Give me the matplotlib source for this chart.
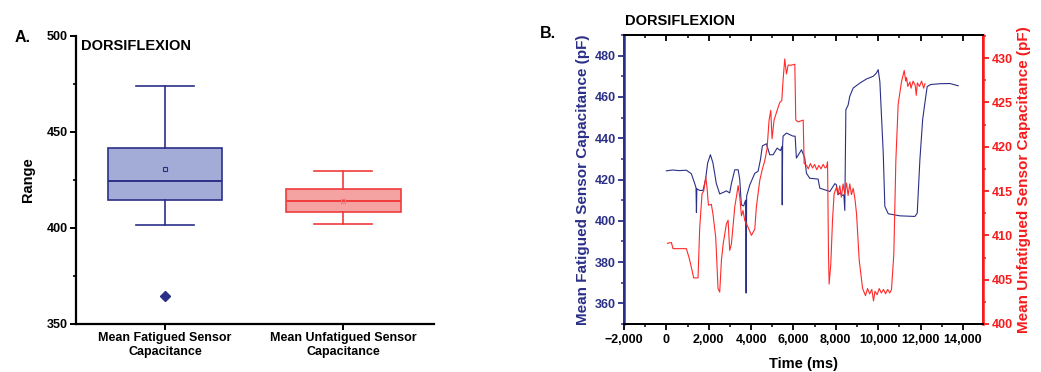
import numpy as np
import matplotlib
matplotlib.use("Agg")
import matplotlib.pyplot as plt
from matplotlib.ticker import MultipleLocator, FuncFormatter

plt.rcParams['font.family'] = ['Liberation Sans', 'DejaVu Sans']
plt.rcParams['font.weight'] = 'bold'
plt.rcParams['axes.labelweight'] = 'bold'

NAVY = '#2b3087'
RED = '#f41c1c'

# ---- panel A: box plot summary ----
box_labels = ['Mean Fatigued Sensor\nCapacitance', 'Mean Unfatigued Sensor\nCapacitance']
box_med = [424.5, 414.1]
box_q1 = [414.6, 408.3]
box_q3 = [441.8, 420.3]
box_lo = [401.7, 402.2]
box_hi = [474.0, 429.9]
box_mean = [430.9, 414.2]
box_fliers = [[364.6], []]

# ---- panel B: time series ----
fat_t = [0, 300, 600, 945, 1180, 1340, 1400, 1420, 1440, 1575, 1730, 1850, 1950,
         2080, 2200, 2360, 2520, 2700, 2835, 2990, 3070, 3230, 3390, 3465, 3540,
         3650, 3740, 3765, 3790, 3940, 4175, 4330, 4440, 4535, 4725, 4880, 5040,
         5230, 5390, 5460, 5470, 5490, 5510, 5670, 5830, 5985, 6080, 6140, 6380,
         6535, 6615, 6770, 7165, 7245, 7720, 7955, 8030, 8110, 8200, 8300, 8380,
         8425, 8475, 8580, 8660, 8820, 9135, 9450, 9765, 9920, 10000, 10080,
         10240, 10315, 10475, 11025, 11735, 11845, 11970, 12100, 12210, 12315,
         12475, 12915, 13390, 13780]
fat_v = [424.2, 424.6, 424.3, 424.5, 422.8, 418, 416, 404, 415.5, 414.7, 414.7, 420,
         428, 432, 428, 418, 413, 413.8, 414.5, 413.5, 418, 424.7, 424.7, 420, 407.7,
         407.2, 410, 365, 412, 417.4, 423, 424, 429.5, 436.3, 437.3, 432, 432,
         435.2, 434, 436, 407.7, 437, 441, 442.5, 441.7, 441, 441, 430.4, 434.4,
         430.4, 423, 420.6, 420.2, 415.8, 414.2, 418, 417.4, 412.6, 413.6, 412.3, 412.6,
         405, 453.8, 456, 460.3, 464.3, 466.7, 468.7, 470, 471.6, 473.2, 467.5,
         432.8, 407, 403.4, 402.4, 402.1, 403.7, 429.5, 449, 457.4, 465,
         466, 466.4, 466.5, 465.4]

unf_t = [50, 235, 315, 945, 1070, 1180, 1290, 1495, 1575, 1685, 1765, 1860, 1920,
         1985, 2125, 2200, 2330, 2440, 2520, 2600, 2680, 2835, 2915, 2990, 3070,
         3230, 3390, 3465, 3545, 3620, 3700, 3860, 4015, 4175, 4250, 4410, 4535,
         4645, 4755, 4850, 4930, 4990, 5085, 5230, 5355, 5450, 5510, 5590, 5670,
         5750, 5905, 6065, 6110, 6220, 6460, 6505, 6615, 6700, 6800, 6900, 7000,
         7100, 7200, 7300, 7400, 7500, 7560, 7610, 7655, 7685, 7765, 7845, 7920,
         8030, 8100, 8190, 8260, 8345, 8420, 8505, 8580, 8660, 8740, 8820, 8900,
         8980, 9105, 9260, 9300, 9400, 9500, 9600, 9700, 9780, 9850, 9950, 10050,
         10150, 10250, 10350, 10450, 10550, 10630, 10740, 10835, 10945, 11100,
         11230, 11300, 11340, 11400, 11500, 11550, 11650, 11750, 11800, 11850,
         11950, 12050, 12150, 12210]
unf_v = [409.1, 409.2, 408.5, 408.5, 407.5, 406.4, 405.2, 405.2, 410.9, 414.7, 415,
         416.6, 415.4, 413.4, 413.5, 412.4, 409.8, 404, 403.6, 407.2, 409, 411.3,
         411.7, 408.3, 409, 413.2, 415.6, 414.3, 412.2, 412.8, 411.7, 410.9, 410,
         410.7, 413.2, 416.2, 417.5, 418.4, 419.8, 423, 424.1, 420.9, 423, 424.1,
         425, 425.2, 427.5, 429.9, 428.2, 429.2, 429.2, 429.3, 423, 422.8, 423,
         418.1, 417.9, 417.5, 418.1, 417.6, 418.0, 417.4, 417.9, 417.5, 418.0,
         417.6, 417.7, 418.3, 407.9, 404.5, 406.8, 411.7, 414.7, 415.4, 414.6,
         415.6, 414.3, 415.8, 414.7, 415.9, 414.5, 415.8, 414.6, 415.3, 414.2,
         412.4, 407.2, 404.1, 403.8, 403.2, 404.0, 403.4, 403.9, 402.6, 403.7,
         403.3, 404.0, 403.5, 403.9, 403.4, 403.9, 403.5, 403.9, 407.9, 418.4,
         424.8, 427.3, 428.6, 427.4, 427.8, 426.8, 427.3, 426.6, 427.4, 426.9,
         425.8, 427.2, 426.8, 427.4, 426.6, 427.1]

W, H = 1041, 372
fig = plt.figure(figsize=(W / 100, H / 100), dpi=100)


def frac(x0, y0, x1, y1):
    return [x0 / W, 1 - y1 / H, (x1 - x0) / W, (y1 - y0) / H]


# ===================== A =====================
axA = fig.add_axes(frac(76, 36, 434, 324))
stats = []
for i in range(2):
    stats.append(dict(med=box_med[i], q1=box_q1[i], q3=box_q3[i],
                      whislo=box_lo[i], whishi=box_hi[i], mean=box_mean[i],
                      fliers=box_fliers[i]))
edge = [NAVY, '#f03c3c']
fill = ['#a3acd6', '#f4a2a2']
mean_edge = [NAVY, '#f47a7a']
for i in range(2):
    axA.bxp([stats[i]], positions=[i + 1], widths=0.645, capwidths=0.325,
            showmeans=True, patch_artist=True,
            boxprops=dict(facecolor=fill[i], edgecolor=edge[i], linewidth=1.2),
            medianprops=dict(color=edge[i], linewidth=1.4),
            whiskerprops=dict(color=edge[i], linewidth=1.2),
            capprops=dict(color=edge[i], linewidth=1.2),
            meanprops=dict(marker='s', markersize=3.5, markerfacecolor='none',
                           markeredgecolor=mean_edge[i], markeredgewidth=0.8),
            flierprops=dict(marker='D', markersize=5, markerfacecolor=NAVY,
                            markeredgecolor=NAVY))
axA.set_xlim(0.5, 2.51)
axA.set_ylim(350, 500)
axA.set_xticks([1, 2])
axA.set_xticklabels(box_labels, fontsize=10, fontweight='bold', linespacing=1.2)
axA.yaxis.set_major_locator(MultipleLocator(50))
axA.yaxis.set_minor_locator(MultipleLocator(25))
for s in ['top', 'right']:
    axA.spines[s].set_visible(False)
for s in ['left', 'bottom']:
    axA.spines[s].set_linewidth(1.6)
axA.tick_params(which='major', length=4, width=1.4, labelsize=9, pad=2)
axA.tick_params(which='minor', length=2.5, width=1.2)
axA.set_ylabel('Range', fontsize=10.5, fontweight='bold', labelpad=8)
axA.text(81 / W, 1 - 50 / H, 'DORSIFLEXION', transform=fig.transFigure,
         fontsize=10.5, fontweight='bold')
fig.text(15 / W, 1 - 42 / H, 'A.', fontsize=11.5, fontweight='bold')

# ===================== B =====================
axB = fig.add_axes(frac(624, 35, 983, 324))
axR = axB.twinx()
axB.plot(fat_t, fat_v, color=NAVY, linewidth=0.8)
axR.plot(unf_t, unf_v, color='#ff2a2a', linewidth=0.8)

axB.set_xlim(-2000, 14950)
axB.set_ylim(350, 490)
axR.set_ylim(400, 432.6)
axB.xaxis.set_major_locator(MultipleLocator(2000))
axB.xaxis.set_minor_locator(MultipleLocator(1000))
axB.xaxis.set_major_formatter(FuncFormatter(lambda x, p: f"{x:,.0f}".replace('-', '\u2212')))
axB.yaxis.set_major_locator(MultipleLocator(20))
axB.yaxis.set_minor_locator(MultipleLocator(10))
axR.yaxis.set_major_locator(MultipleLocator(5))
axR.yaxis.set_minor_locator(MultipleLocator(2.5))

for a in (axB, axR):
    for s in a.spines.values():
        s.set_linewidth(1.4)
axR.spines['left'].set_color(NAVY)
axR.spines['right'].set_color(RED)
axB.spines['left'].set_color(NAVY)
axB.spines['right'].set_color(RED)
axR.spines['left'].set_linewidth(1.8)
axR.spines['right'].set_linewidth(1.8)

axB.tick_params(axis='x', which='major', length=4, width=1.3, labelsize=9, pad=3)
axB.tick_params(axis='x', which='minor', length=2.5, width=1.1)
axB.tick_params(axis='y', which='major', length=4, width=1.3, colors=NAVY, labelsize=9, pad=2)
axB.tick_params(axis='y', which='minor', length=2.5, width=1.1, colors=NAVY)
axR.tick_params(axis='y', which='major', length=4, width=1.3, colors=RED, labelsize=9, pad=2)
axR.tick_params(axis='y', which='minor', length=2.5, width=1.1, colors=RED)

top = axB.secondary_xaxis('top')
top.xaxis.set_major_locator(MultipleLocator(2000))
top.xaxis.set_minor_locator(MultipleLocator(1000))
top.tick_params(which='major', direction='in', length=4, width=1.3, labeltop=False)
top.tick_params(which='minor', direction='in', length=2.5, width=1.1)
top.spines['top'].set_linewidth(1.4)

axB.set_xlabel('Time (ms)', fontsize=10.5, fontweight='bold', labelpad=8)
axB.set_ylabel('Mean Fatigued Sensor Capacitance (pF)', fontsize=11,
               fontweight='bold', color=NAVY, labelpad=3)
axR.set_ylabel('Mean Unfatigued Sensor Capacitance (pF)', fontsize=11,
               fontweight='bold', color=RED, labelpad=3)
fig.text(625 / W, 1 - 25 / H, 'DORSIFLEXION', fontsize=10.5, fontweight='bold')
fig.text(540 / W, 1 - 38 / H, 'B.', fontsize=11.5, fontweight='bold')

fig.savefig('out.png', dpi=100)
